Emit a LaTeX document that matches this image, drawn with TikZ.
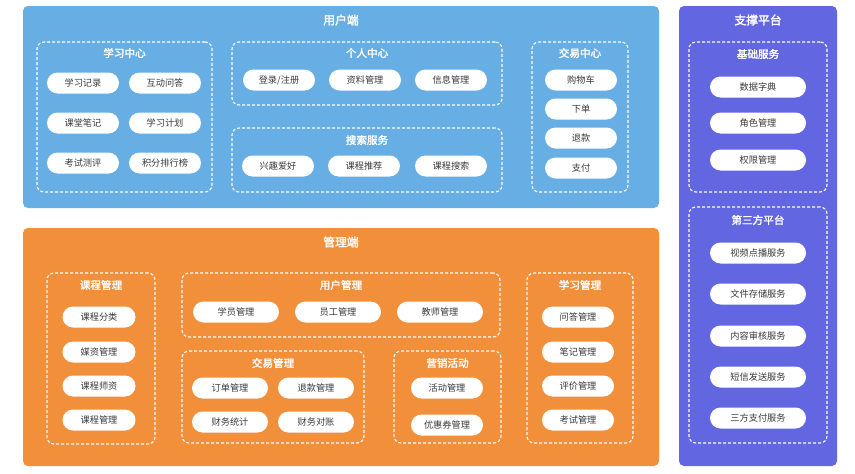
\documentclass[tikz,border=0pt]{standalone}
\usepackage{fontspec}
\setmainfont{Noto Sans CJK SC}
\newfontfamily\boldcjk{Noto Sans CJK SC}[FakeBold=2]
\definecolor{userblue}{HTML}{66AEE3}
\definecolor{adminorange}{HTML}{F28F3A}
\definecolor{supportpurple}{HTML}{6366E1}
\definecolor{pilltext}{HTML}{3A3A3A}
\tikzset{
  panel/.style={fill=#1, draw=none, rounded corners=5pt, inner sep=0pt},
  dbox/.style={draw=white, dashed, dash pattern=on 3pt off 2pt, line width=1.1pt, rounded corners=7pt, inner sep=0pt},
  pill/.style={fill=white, draw=none, rounded corners=10.5pt, minimum height=21pt, minimum width=#1, inner sep=0pt, text=pilltext, font=\fontsize{9.2}{10}\selectfont},
  pill/.default=72pt,
  ptitle/.style={text=white, font=\boldcjk\fontsize{11.8}{13}\selectfont, inner sep=0pt},
  btitle/.style={text=white, font=\boldcjk\fontsize{10.6}{12}\selectfont, inner sep=0pt}
}
\begin{document}
\begin{tikzpicture}[x=1pt,y=-1pt]
\useasboundingbox (0,0) rectangle (855,474);
% panels
\node[panel=userblue, minimum width=636pt, minimum height=202pt] (user) at (341,107) {};
\node[panel=adminorange, minimum width=636pt, minimum height=238pt] (admin) at (341,347) {};
\node[panel=supportpurple, minimum width=158pt, minimum height=460pt] (support) at (758,236) {};
\node[ptitle] (usert) at (341,20) {用户端};
\node[ptitle] (admint) at (341,242) {管理端};
\node[ptitle] (supportt) at (758,20) {支撑平台};

% ---- user side
\node[dbox, minimum width=175pt, minimum height=150pt] (xxzx) at (124.5,117) {};
\node[btitle] (xxzxt) at (124.5,53) {学习中心};
\node[pill] (u1) at (83,83) {学习记录};
\node[pill] (u2) at (165,83) {互动问答};
\node[pill] (u3) at (83,123) {课堂笔记};
\node[pill] (u4) at (165,123) {学习计划};
\node[pill] (u5) at (83,163) {考试测评};
\node[pill] (u6) at (165,163) {积分排行榜};

\node[dbox, minimum width=270pt, minimum height=63pt] (grzx) at (367,73.5) {};
\node[btitle] (grzxt) at (367,53) {个人中心};
\node[pill] (g1) at (279,80) {登录/注册};
\node[pill] (g2) at (365,80) {资料管理};
\node[pill] (g3) at (451,80) {信息管理};

\node[dbox, minimum width=270pt, minimum height=64pt] (ssfw) at (367,160) {};
\node[btitle] (ssfwt) at (367,140) {搜索服务};
\node[pill] (s1) at (278,166) {兴趣爱好};
\node[pill] (s2) at (364,166) {课程推荐};
\node[pill] (s3) at (451,166) {课程搜索};

\node[dbox, minimum width=96pt, minimum height=150pt] (jyzx) at (580,117) {};
\node[btitle] (jyzxt) at (580,53) {交易中心};
\node[pill] (j1) at (581,80) {购物车};
\node[pill] (j2) at (581,109) {下单};
\node[pill] (j3) at (581,138) {退款};
\node[pill] (j4) at (581,168) {支付};

% ---- support side
\node[dbox, minimum width=138pt, minimum height=150pt] (jcfw) at (758,117) {};
\node[btitle] (jcfwt) at (758,54) {基础服务};
\node[pill=96pt] (b1) at (758,87) {数据字典};
\node[pill=96pt] (b2) at (758,123) {角色管理};
\node[pill=96pt] (b3) at (758,160) {权限管理};

\node[dbox, minimum width=138pt, minimum height=236pt] (dsf) at (758,325) {};
\node[btitle] (dsft) at (758,220) {第三方平台};
\node[pill=96pt] (t1) at (758,253) {视频点播服务};
\node[pill=96pt] (t2) at (758,294) {文件存储服务};
\node[pill=96pt] (t3) at (758,336) {内容审核服务};
\node[pill=96pt] (t4) at (758,377) {短信发送服务};
\node[pill=96pt] (t5) at (758,418) {三方支付服务};

% ---- admin side
\node[dbox, minimum width=108pt, minimum height=171pt] (kcgl) at (101,358.5) {};
\node[btitle] (kcglt) at (101,285) {课程管理};
\node[pill=73pt] (k1) at (99,317) {课程分类};
\node[pill=73pt] (k2) at (99,352) {媒资管理};
\node[pill=73pt] (k3) at (99,386) {课程师资};
\node[pill=73pt] (k4) at (99,420) {课程管理};

\node[dbox, minimum width=318pt, minimum height=64pt] (yhgl) at (341,305) {};
\node[btitle] (yhglt) at (341,285) {用户管理};
\node[pill=86pt] (h1) at (236,312) {学员管理};
\node[pill=86pt] (h2) at (338,312) {员工管理};
\node[pill=86pt] (h3) at (440,312) {教师管理};

\node[dbox, minimum width=182pt, minimum height=92pt] (jygl) at (273,397) {};
\node[btitle] (jyglt) at (273,363) {交易管理};
\node[pill=76pt] (y1) at (230,388) {订单管理};
\node[pill=76pt] (y2) at (316,388) {退款管理};
\node[pill=76pt] (y3) at (230,422) {财务统计};
\node[pill=76pt] (y4) at (316,422) {财务对账};

\node[dbox, minimum width=107pt, minimum height=92pt] (yxhd) at (447.5,397) {};
\node[btitle] (yxhdt) at (447.5,363) {营销活动};
\node[pill] (m1) at (447,388) {活动管理};
\node[pill] (m2) at (447,425) {优惠券管理};

\node[dbox, minimum width=106pt, minimum height=170pt] (xxgl) at (580,358) {};
\node[btitle] (xxglt) at (580,285) {学习管理};
\node[pill] (x1) at (578,317) {问答管理};
\node[pill] (x2) at (578,352) {笔记管理};
\node[pill] (x3) at (578,386) {评价管理};
\node[pill] (x4) at (578,420) {考试管理};
\end{tikzpicture}
\end{document}
